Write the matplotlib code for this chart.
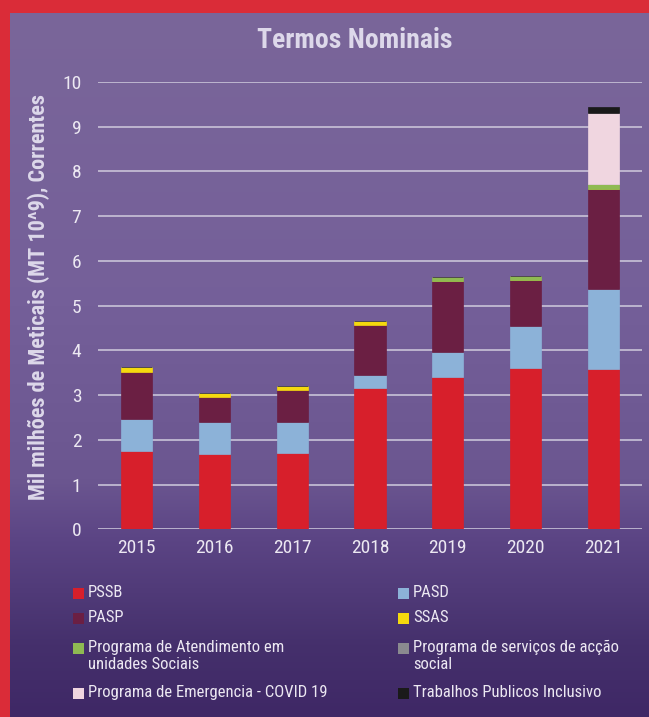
import numpy as np
import matplotlib
matplotlib.use("Agg")
import matplotlib.pyplot as plt
from matplotlib import font_manager
from matplotlib.patches import Rectangle
from matplotlib.colors import LinearSegmentedColormap

# pick a narrow font if there is one
FONT = "DejaVu Sans"
for cand in ["Roboto Condensed", "Liberation Sans Narrow", "DejaVu Sans Condensed",
             "Open Sans Condensed", "Noto Sans Condensed", "Roboto"]:
    try:
        font_manager.findfont(cand, fallback_to_default=False)
        FONT = cand
        break
    except Exception:
        pass
plt.rcParams["font.family"] = [FONT, "DejaVu Sans"]

# data (mil milhoes de meticais)
years = ["2015", "2016", "2017", "2018", "2019", "2020", "2021"]
pssb = [1.74, 1.69, 1.71, 3.16, 3.41, 3.61, 3.59]
pasd = [0.72, 0.70, 0.70, 0.29, 0.55, 0.94, 1.78]
pasp = [1.06, 0.56, 0.71, 1.11, 1.59, 1.02, 2.23]
ssas = [0.10, 0.09, 0.09, 0.10, 0.00, 0.00, 0.00]
atendimento = [0.00, 0.00, 0.00, 0.00, 0.10, 0.10, 0.11]
servicos = [0.00, 0.00, 0.00, 0.00, 0.00, 0.00, 0.00]
covid = [0.00, 0.00, 0.00, 0.00, 0.00, 0.00, 1.60]
tpi = [0.00, 0.00, 0.00, 0.00, 0.00, 0.00, 0.12]

series = [pssb, pasd, pasp, ssas, atendimento, servicos, covid, tpi]
labels = ["PSSB", "PASD", "PASP", "SSAS",
          "Programa de Atendimento em\nunidades Sociais",
          "Programa de serviços de acção\nsocial",
          "Programa de Emergencia - COVID 19",
          "Trabalhos Publicos Inclusivo"]
colors = ["#d71f2b", "#8cb2d8", "#6b1f43", "#f5d90e",
          "#8fba52", "#8a8a8f", "#f0d6e0", "#1a1a1a"]

W, H = 649, 717
fig = plt.figure(figsize=(W / 100, H / 100), dpi=100)

# background gradient + red frame
bg = fig.add_axes([0, 0, 1, 1], zorder=-10)
cmap = LinearSegmentedColormap.from_list(
    "bg", [(0.0, "#3f2866"), (0.10, "#45306c"), (0.25, "#5c4585"),
           (0.33, "#6b5690"), (0.60, "#75609a"), (1.0, "#7a6699")])
grad = np.linspace(0, 1, 256).reshape(-1, 1)
bg.imshow(grad, aspect="auto", cmap=cmap, origin="lower", extent=[0, 1, 0, 1])
bg.set_xlim(0, 1)
bg.set_ylim(0, 1)
bg.add_patch(Rectangle((0, 0), 10 / W, 1, color="#da2c38", lw=0))
bg.add_patch(Rectangle((0, 1 - 13 / H), 1, 13 / H, color="#da2c38", lw=0))
bg.axis("off")

ax = fig.add_axes([98 / W, 187.7 / H, 544 / W, 447.3 / H])
ax.set_facecolor("none")
x = np.arange(len(years))
bottom = np.zeros(len(years))
for vals, c in zip(series, colors):
    ax.bar(x, vals, 0.40, bottom=bottom, color=c, edgecolor=c, lw=0.5, zorder=3)
    bottom += np.array(vals)

ax.set_xlim(-0.5, len(years) - 0.5)
ax.set_ylim(0, 10)
ax.set_yticks(range(0, 11))
ax.set_xticks(x)
ax.set_xticklabels(years)
ax.grid(axis="y", color="#c9c3d8", lw=1.2, zorder=0)
for s in ax.spines.values():
    s.set_visible(False)
ax.tick_params(length=0, colors="#ece8f2", labelsize=14)
ax.tick_params(axis="y", pad=12)
ax.tick_params(axis="x", pad=7)
for t in ax.get_yticklabels() + ax.get_xticklabels():
    t.set_clip_on(False)

ax.set_ylabel("Mil milhões de Meticais (MT 10^9), Correntes",
              fontsize=16, fontweight="bold", color="#ddd8ea")
ax.yaxis.set_label_coords(-0.089, 0.52)

fig.text(355 / W, 1 - 40 / H, "Termos Nominais", ha="center", va="center",
         fontsize=20, fontweight="bold", color="#ddd8ea")

# legend, two columns
order = [(0, 0, 0), (1, 1, 0), (2, 0, 1), (3, 1, 1),
         (4, 0, 2), (5, 1, 2), (6, 0, 3), (7, 1, 3)]
row_y = [593, 618, 648, 693]
col_x = [73, 398]
for i, col, row in order:
    sx = col_x[col]
    sy = row_y[row]
    fig.patches.append(Rectangle((sx / W, 1 - (sy + 6) / H), 11 / W, 11 / H,
                                 transform=fig.transFigure, color=colors[i], lw=0))
    fig.text((sx + 15) / W, 1 - (sy - 8) / H, labels[i], ha="left", va="top",
             fontsize=12, color="#ece8f2", linespacing=1.15)

fig.savefig("out.png", dpi=100)
